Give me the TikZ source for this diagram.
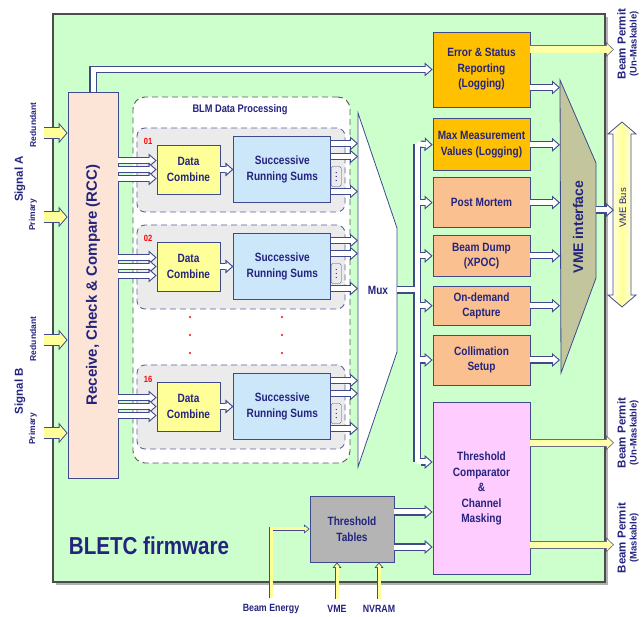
\documentclass[tikz,border=0pt]{standalone}
\usepackage{fontspec}
\setmainfont{Liberation Sans}
\newfontfamily\nfont{Liberation Sans}[FakeStretch=0.84]
\usepackage{tikz}
\usetikzlibrary{arrows.meta,positioning,shadows}
\definecolor{blmline}{HTML}{3F4A8C}
\definecolor{blmtext}{HTML}{24247F}
\definecolor{blmgreen}{HTML}{CCFFCC}
\definecolor{rccfill}{HTML}{FCE4D6}
\definecolor{dcfill}{HTML}{FFFF99}
\definecolor{sumfill}{HTML}{CCE6FA}
\definecolor{chfill}{HTML}{EBEBEB}
\definecolor{logfill}{HTML}{FFC000}
\definecolor{acqfill}{HTML}{FAC090}
\definecolor{tcfill}{HTML}{FFCCFF}
\definecolor{ttfill}{HTML}{B4B4B4}
\definecolor{vmefill}{HTML}{C3C69C}
\definecolor{sigyel}{HTML}{FFFF99}
\definecolor{bpyel}{HTML}{FFFFA8}

\begin{document}
\begin{tikzpicture}[
      x=1pt, y=-1pt,
      node distance=13pt,
      box/.style={
        draw=blmline,
        line width=0.8pt,
        align=center,
        inner sep=1pt,
        text=blmtext,
        font=\nfont\bfseries\fontsize{12}{15.5}\selectfont
      },
      dcbox/.style={box, fill=dcfill, minimum width=63pt, minimum height=49pt},
      sumbox/.style={box, fill=sumfill, minimum width=97pt, minimum height=66pt},
      rbox/.style={box, minimum width=97pt},
      chan/.style={
        draw=blmline!85, line width=0.9pt, dash pattern=on 6pt off 4pt,
        fill=chfill, rounded corners=8pt,
        minimum width=208pt, minimum height=84pt
      },
      tab/.style={draw=blmline, fill=chfill, rounded corners=1.5pt,
        minimum width=10pt, minimum height=20pt, inner sep=0pt},
      chlab/.style={text=red, inner sep=0pt,
        font=\nfont\bfseries\fontsize{9}{10}\selectfont},
      rotlab/.style={rotate=90, text=blmtext, inner sep=0pt, align=center},
      nlab/.style={text=blmtext, inner sep=0pt,
        font=\nfont\bfseries\fontsize{10.5}{12}\selectfont},
      % hollow arrows: white core over a blue outline
      holw/.style={draw=white, line width=5pt,
        -{Triangle[length=5.2pt,width=9.1pt,line width=0pt]}, shorten >=1.67pt},
      holb/.style={draw=blmline, line width=7.2pt,
        -{Triangle[length=8pt,width=14pt,line width=0pt]}, shorten >=0pt},
      hol/.style={holw, preaction={holb}},
      tap/.style={holw, preaction={holb, shorten <=3.6pt}},
      bus/.style={draw=white, line width=5pt, line cap=square,
        preaction={draw=blmline, line width=7.2pt, line cap=square}},
      muxfeed/.style={draw=white, line width=5pt,
        preaction={draw=blmline, line width=7.2pt, shorten >=3.6pt}},
      % yellow signal arrows
      sig/.style={draw=sigyel, line width=10pt,
        -{Triangle[length=6.7pt,width=15.6pt,line width=0pt]}, shorten >=1.3pt,
        preaction={draw=blmline, line width=12pt,
          -{Triangle[length=9pt,width=21pt,line width=0pt]}, shorten >=0pt}},
      permit/.style={draw=bpyel, line width=6.4pt,
        -{Triangle[length=6pt,width=11.3pt,line width=0pt]}, shorten >=1.2pt,
        preaction={draw=gray!60!blmline, line width=8pt,
          -{Triangle[length=8pt,width=15pt,line width=0pt]}, shorten >=0pt}},
      thin/.style={draw=sigyel, line width=3pt,
        -{Triangle[length=3.4pt,width=5.6pt,line width=0pt]}, shorten >=1.3pt,
        preaction={draw=blmline, line width=4.6pt,
          -{Triangle[length=5.5pt,width=9pt,line width=0pt]}, shorten >=0pt}}
    ]

    \useasboundingbox (0,0) rectangle (643,617);

    \node[draw=gray!60!black, line width=1.2pt, fill=blmgreen,
      minimum width=552pt, minimum height=568pt,
      drop shadow={shadow xshift=3pt, shadow yshift=-3pt, fill=black!30, opacity=1}]
      (fw) at (329,298) {};

    \node[text=blmtext, inner sep=0pt,
      font=\nfont\bfseries\fontsize{24.5}{28}\selectfont]
      (fwlab) at (149,546) {BLETC firmware};

    % receive, check & compare
    \node[draw=blmline, line width=0.8pt, fill=rccfill,
      minimum width=50pt, minimum height=386pt] (rcc) at (93,285) {};
    \node[rotlab, font=\bfseries\fontsize{15}{17}\selectfont]
      (rcclab) at (rcc) {Receive, Check \& Compare (RCC)};

    \coordinate (sa1) at (44,133);
    \coordinate (sa2) at (44,217);
    \coordinate (sb1) at (44,340);
    \coordinate (sb2) at (44,433);
    \draw[sig] (sa1) -- (sa1 -| rcc.west);
    \draw[sig] (sa2) -- (sa2 -| rcc.west);
    \draw[sig] (sb1) -- (sb1 -| rcc.west);
    \draw[sig] (sb2) -- (sb2 -| rcc.west);

    \node[rotlab, font=\bfseries\fontsize{11.5}{13}\selectfont] (siga) at (20,179) {Signal A};
    \node[rotlab, font=\bfseries\fontsize{8.5}{10}\selectfont] (reda) at (33,125) {Redundant};
    \node[rotlab, font=\bfseries\fontsize{8.5}{10}\selectfont] (pria) at (33,215) {Primary};
    \node[rotlab, font=\bfseries\fontsize{11.5}{13}\selectfont] (sigb) at (20,391) {Signal B};
    \node[rotlab, font=\bfseries\fontsize{8.5}{10}\selectfont] (redb) at (33,339) {Redundant};
    \node[rotlab, font=\bfseries\fontsize{8.5}{10}\selectfont] (prib) at (33,429) {Primary};

    % BLM data processing
    \node[draw=black!65, line width=0.9pt, dash pattern=on 6pt off 4pt,
      fill=white, rounded corners=12pt,
      minimum width=217pt, minimum height=366pt] (blm) at (241.5,280) {};
    \node[text=blmtext, inner sep=0pt,
      font=\nfont\bfseries\fontsize{11}{13}\selectfont]
      (blmlab) at (240,110) {BLM Data Processing};

    \coordinate (muxL) at (358,0);

    \node[chan] (ch01) at (241,170) {};
    \node[chlab] (n01) at (148,141) {01};
    \node[dcbox] (dc01) at (188.5,169.5) {Data\\Combine};
    \node[sumbox,right=of dc01] (rs01) {Successive\\Running Sums};
    \node[tab] (tb01) at ([xshift=5pt,yshift=-7pt]rs01.east) {};
    \fill[blmtext] ([yshift=4pt]tb01.center) circle (0.7pt) (tb01.center) circle (0.7pt)
      ([yshift=-4pt]tb01.center) circle (0.7pt);
    \draw[hol] ([yshift=9pt]dc01.west -| rcc.east) -- ([yshift=9pt]dc01.west);
    \draw[hol] (dc01.west -| rcc.east) -- (dc01.west);
    \draw[hol] ([yshift=-9pt]dc01.west -| rcc.east) -- ([yshift=-9pt]dc01.west);
    \draw[hol] (dc01) -- (rs01);
    \draw[hol] ([yshift=26pt]rs01.east) -- ([yshift=26pt]rs01.east -| muxL);
    \draw[hol] ([yshift=13pt]rs01.east) -- ([yshift=13pt]rs01.east -| muxL);
    \draw[hol] ([yshift=-22pt]rs01.east) -- ([yshift=-22pt]rs01.east -| muxL);

    \node[chan] (ch02) at (241,267) {};
    \node[chlab] (n02) at (148,238) {02};
    \node[dcbox] (dc02) at (188.5,266.5) {Data\\Combine};
    \node[sumbox,right=of dc02] (rs02) {Successive\\Running Sums};
    \node[tab] (tb02) at ([xshift=5pt,yshift=-7pt]rs02.east) {};
    \fill[blmtext] ([yshift=4pt]tb02.center) circle (0.7pt) (tb02.center) circle (0.7pt)
      ([yshift=-4pt]tb02.center) circle (0.7pt);
    \draw[hol] ([yshift=9pt]dc02.west -| rcc.east) -- ([yshift=9pt]dc02.west);
    \draw[hol] (dc02.west -| rcc.east) -- (dc02.west);
    \draw[hol] ([yshift=-9pt]dc02.west -| rcc.east) -- ([yshift=-9pt]dc02.west);
    \draw[hol] (dc02) -- (rs02);
    \draw[hol] ([yshift=26pt]rs02.east) -- ([yshift=26pt]rs02.east -| muxL);
    \draw[hol] ([yshift=13pt]rs02.east) -- ([yshift=13pt]rs02.east -| muxL);
    \draw[hol] ([yshift=-22pt]rs02.east) -- ([yshift=-22pt]rs02.east -| muxL);

    \fill[red] (190,317) circle (1.1pt) (190,335) circle (1.1pt) (190,353) circle (1.1pt)
      (282,317) circle (1.1pt) (282,335) circle (1.1pt) (282,353) circle (1.1pt);

    \node[chan] (ch16) at (241,407) {};
    \node[chlab] (n16) at (148,379) {16};
    \node[dcbox] (dc16) at (188.5,406.5) {Data\\Combine};
    \node[sumbox,right=of dc16] (rs16) {Successive\\Running Sums};
    \node[tab] (tb16) at ([xshift=5pt,yshift=-7pt]rs16.east) {};
    \fill[blmtext] ([yshift=4pt]tb16.center) circle (0.7pt) (tb16.center) circle (0.7pt)
      ([yshift=-4pt]tb16.center) circle (0.7pt);
    \draw[hol] ([yshift=9pt]dc16.west -| rcc.east) -- ([yshift=9pt]dc16.west);
    \draw[hol] (dc16.west -| rcc.east) -- (dc16.west);
    \draw[hol] ([yshift=-9pt]dc16.west -| rcc.east) -- ([yshift=-9pt]dc16.west);
    \draw[hol] (dc16) -- (rs16);
    \draw[hol] ([yshift=26pt]rs16.east) -- ([yshift=26pt]rs16.east -| muxL);
    \draw[hol] ([yshift=13pt]rs16.east) -- ([yshift=13pt]rs16.east -| muxL);
    \draw[hol] ([yshift=-22pt]rs16.east) -- ([yshift=-22pt]rs16.east -| muxL);

    % mux
    \draw[draw=blmline, line width=0.8pt, fill=white]
      (358,113) -- (397,228) -- (397,352) -- (358,467) -- cycle;
    \node[text=blmtext, inner sep=0pt,
      font=\nfont\bfseries\fontsize{12}{14}\selectfont] (mux) at (378,290) {Mux};

    % right column
    \node[rbox, fill=logfill, minimum height=75pt] (err) at (481.5,69.5)
      {Error \& Status\\Reporting\\(Logging)};
    \node[rbox, fill=logfill, minimum height=52pt, below=11pt of err] (maxm)
      {Max Measurement\\Values (Logging)};
    \node[rbox, fill=acqfill, minimum height=50pt, below=6pt of maxm] (pm)
      {Post Mortem};
    \node[rbox, fill=acqfill, minimum height=41pt, below=7pt of pm] (bd)
      {Beam Dump\\(XPOC)};
    \node[rbox, fill=acqfill, minimum height=39pt, below=9pt of bd] (od)
      {On-demand\\Capture};
    \node[rbox, fill=acqfill, minimum height=50pt, below=9pt of od] (col)
      {Collimation\\Setup};
    \node[rbox, fill=tcfill, minimum height=172pt, below=17pt of col] (tc)
      {Threshold\\Comparator\\\&\\Channel\\Masking};

    \draw[hol] (rcc.north) |- (err.west);

    \coordinate (muxR) at (397,290);
    \coordinate (busM) at (417,290);
    \coordinate (busT) at (417,144);
    \coordinate (busB) at (417,462);
    \draw[bus] (busT) -- (busB);
    \draw[muxfeed] (muxR) -- (busM);
    \draw[tap] (busT) -- (maxm.west);
    \draw[tap] (pm.west -| busT) -- (pm.west);
    \draw[tap] (bd.west -| busT) -- (bd.west);
    \draw[tap] (od.west -| busT) -- (od.west);
    \draw[tap] (col.west -| busT) -- (col.west);
    \draw[tap] (busB) -- (busB -| tc.west);

    % vme interface
    \draw[draw=blmline, line width=0.8pt, fill=vmefill]
      (560,80) -- (596,163) -- (596,278) -- (561,373) -- cycle;
    \node[rotlab, font=\bfseries\fontsize{14}{16}\selectfont] (vmei) at (578,227) {VME interface};

    \coordinate (vmeL) at (560,0);
    \draw[hol] ([yshift=-18pt]err.east) -- ([yshift=-18pt]err.east -| vmeL);
    \draw[hol] (maxm.east) -- (maxm.east -| vmeL);
    \draw[hol] (pm.east) -- (pm.east -| vmeL);
    \draw[hol] (bd.east) -- (bd.east -| vmeL);
    \draw[hol] (od.east) -- (od.east -| vmeL);
    \draw[hol] (col.east) -- (col.east -| vmeL);

    % vme bus
    \draw[draw=blmline, line width=0.8pt, left color=white, right color=white, middle color=sigyel]
      (622,122) -- (636,134) -- (631,134) -- (631,295) -- (636,295) -- (622,307)
      -- (608,295) -- (613,295) -- (613,134) -- (608,134) -- cycle;
    \node[rotlab, font=\fontsize{9.5}{11}\selectfont] (vmebus) at (623,208) {VME Bus};
    \coordinate (vmeR) at (596,210);
    \coordinate (vbus) at (614,210);
    \draw[hol] (vmeR) -- (vbus);

    % beam permits
    \coordinate (bpx) at (614,0);
    \draw[permit] ([yshift=20pt]err.east) -- ([yshift=20pt]err.east -| bpx);
    \draw[permit] ([yshift=46pt]tc.east) -- ([yshift=46pt]tc.east -| bpx);
    \draw[permit] ([yshift=-56pt]tc.east) -- ([yshift=-56pt]tc.east -| bpx);
    \node[rotlab, font=\bfseries\fontsize{9.5}{11}\selectfont] (bp1) at (628,44)
      {{\fontsize{11.5}{11}\selectfont Beam Permit}\\(Un-Maskable)};
    \node[rotlab, font=\bfseries\fontsize{9.5}{11}\selectfont] (bp2) at (628,433)
      {{\fontsize{11.5}{11}\selectfont Beam Permit}\\(Un-Maskable)};
    \node[rotlab, font=\bfseries\fontsize{9.5}{11}\selectfont] (bp3) at (628,538)
      {{\fontsize{11.5}{11}\selectfont Beam Permit}\\(Maskable)};

    % threshold tables
    \node[box, fill=ttfill, minimum width=84pt, minimum height=66pt] (tt) at (352,529)
      {Threshold\\Tables};
    \draw[hol] ([yshift=17pt]tt.east) -- ([yshift=17pt]tt.east -| tc.west);
    \draw[hol] ([yshift=-18pt]tt.east) -- ([yshift=-18pt]tt.east -| tc.west);

    \node[nlab] (be) at (271,609) {Beam Energy};
    \node[nlab] (vme) at (337,609) {VME};
    \node[nlab] (nv) at (379,609) {NVRAM};
    \draw[thin] ([yshift=6pt]be.north) |- (tt.west);
    \draw[thin] ([yshift=6pt]vme.north) -- (vme.north |- tt.south);
    \draw[thin] ([yshift=6pt]nv.north) -- (nv.north |- tt.south);

  \end{tikzpicture}
\end{document}
